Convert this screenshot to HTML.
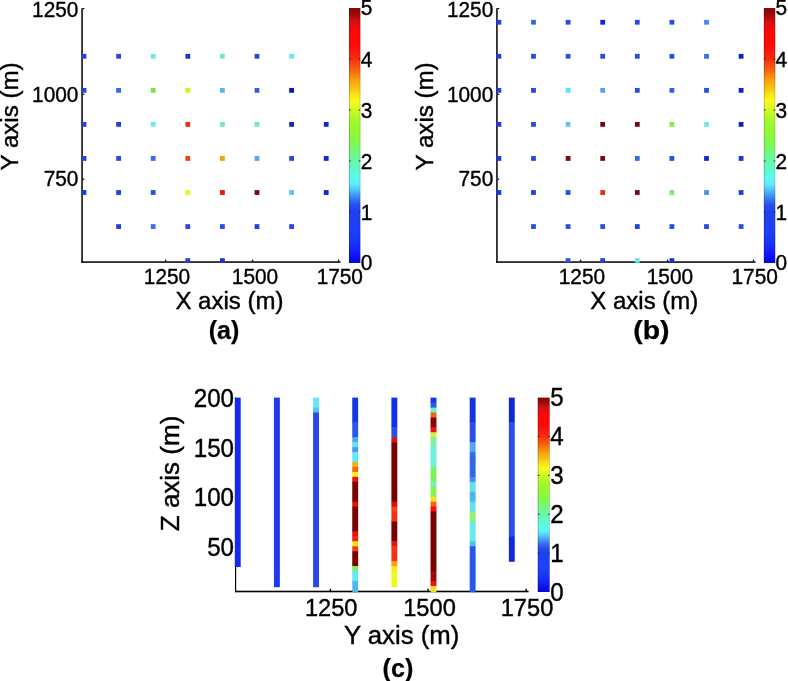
<!DOCTYPE html>
<html><head><meta charset="utf-8"><title>Figure</title>
<style>html,body{margin:0;padding:0;background:#fff;}svg{display:block}text{font-family:"Liberation Sans",sans-serif;fill:#000;stroke:#000;stroke-width:.4px}text.b{font-weight:bold;stroke-width:.25px}</style></head>
<body><svg width="788" height="681" viewBox="0 0 788 681" shape-rendering="auto">
<rect x="0" y="0" width="788" height="681" fill="#ffffff"/>
<defs><linearGradient id="cb" x1="0" y1="0" x2="0" y2="1">
<stop offset="0.0000" stop-color="#880808"/>
<stop offset="0.0157" stop-color="#900808"/>
<stop offset="0.0275" stop-color="#a80808"/>
<stop offset="0.0471" stop-color="#c81010"/>
<stop offset="0.0667" stop-color="#e01010"/>
<stop offset="0.0863" stop-color="#f80808"/>
<stop offset="0.1059" stop-color="#ff0808"/>
<stop offset="0.1451" stop-color="#ff0808"/>
<stop offset="0.1647" stop-color="#f81810"/>
<stop offset="0.1843" stop-color="#f82010"/>
<stop offset="0.2000" stop-color="#f03010"/>
<stop offset="0.2196" stop-color="#f84810"/>
<stop offset="0.2353" stop-color="#f85810"/>
<stop offset="0.2510" stop-color="#f87010"/>
<stop offset="0.2667" stop-color="#f88810"/>
<stop offset="0.2824" stop-color="#f8a010"/>
<stop offset="0.2980" stop-color="#f8b010"/>
<stop offset="0.3137" stop-color="#f8c010"/>
<stop offset="0.3294" stop-color="#f8d818"/>
<stop offset="0.3451" stop-color="#f8e818"/>
<stop offset="0.3608" stop-color="#f8f820"/>
<stop offset="0.3765" stop-color="#f0f820"/>
<stop offset="0.3922" stop-color="#e0f820"/>
<stop offset="0.4000" stop-color="#d0f820"/>
<stop offset="0.4157" stop-color="#c0f828"/>
<stop offset="0.4314" stop-color="#b0f828"/>
<stop offset="0.4471" stop-color="#a0f830"/>
<stop offset="0.4706" stop-color="#98f830"/>
<stop offset="0.4980" stop-color="#90f838"/>
<stop offset="0.5255" stop-color="#80f850"/>
<stop offset="0.5490" stop-color="#78f868"/>
<stop offset="0.5725" stop-color="#70f888"/>
<stop offset="0.5882" stop-color="#68f8a0"/>
<stop offset="0.6000" stop-color="#68f8a8"/>
<stop offset="0.6196" stop-color="#60f8c0"/>
<stop offset="0.6431" stop-color="#60f8d8"/>
<stop offset="0.6667" stop-color="#60f8f0"/>
<stop offset="0.6863" stop-color="#60f0f8"/>
<stop offset="0.7020" stop-color="#58d8f8"/>
<stop offset="0.7137" stop-color="#50c0f8"/>
<stop offset="0.7255" stop-color="#48a8f8"/>
<stop offset="0.7373" stop-color="#4090f0"/>
<stop offset="0.7451" stop-color="#3880f8"/>
<stop offset="0.7569" stop-color="#3068f0"/>
<stop offset="0.7725" stop-color="#2850f0"/>
<stop offset="0.7843" stop-color="#2048f0"/>
<stop offset="0.8000" stop-color="#2040f0"/>
<stop offset="0.8314" stop-color="#2040f0"/>
<stop offset="0.8706" stop-color="#2040f8"/>
<stop offset="0.9098" stop-color="#1838f8"/>
<stop offset="0.9412" stop-color="#1828f8"/>
<stop offset="0.9647" stop-color="#1018f8"/>
<stop offset="0.9804" stop-color="#0810f0"/>
<stop offset="1.0000" stop-color="#0808d0"/>
</linearGradient></defs>
<rect x="81.30" y="8.20" width="1.50" height="254.60" fill="#000"/>
<rect x="81.30" y="261.30" width="259.30" height="1.50" fill="#000"/>
<rect x="165.10" y="259.60" width="1.20" height="2.00" fill="#000"/>
<rect x="252.00" y="259.60" width="1.20" height="2.00" fill="#000"/>
<rect x="338.00" y="259.60" width="1.20" height="2.00" fill="#000"/>
<rect x="82.70" y="8.00" width="1.70" height="1.20" fill="#000"/>
<rect x="82.70" y="93.70" width="1.70" height="1.20" fill="#000"/>
<rect x="82.70" y="178.60" width="1.70" height="1.20" fill="#000"/>
<rect x="81.60" y="53.90" width="4.80" height="4.80" fill="#2040e8"/>
<rect x="116.20" y="53.90" width="4.80" height="4.80" fill="#2848e0"/>
<rect x="150.80" y="53.90" width="4.80" height="4.80" fill="#70e8e0"/>
<rect x="185.40" y="53.90" width="4.80" height="4.80" fill="#1830d8"/>
<rect x="220.00" y="53.90" width="4.80" height="4.80" fill="#70e8d0"/>
<rect x="254.60" y="53.90" width="4.80" height="4.80" fill="#2848d8"/>
<rect x="289.20" y="53.90" width="4.80" height="4.80" fill="#68e8f8"/>
<rect x="81.60" y="87.95" width="4.80" height="4.80" fill="#2040e8"/>
<rect x="116.20" y="87.95" width="4.80" height="4.80" fill="#3868e0"/>
<rect x="150.80" y="87.95" width="4.80" height="4.80" fill="#80e048"/>
<rect x="185.40" y="87.95" width="4.80" height="4.80" fill="#d8f020"/>
<rect x="220.00" y="87.95" width="4.80" height="4.80" fill="#58b8e8"/>
<rect x="254.60" y="87.95" width="4.80" height="4.80" fill="#3060e0"/>
<rect x="289.20" y="87.95" width="4.80" height="4.80" fill="#0818b8"/>
<rect x="81.60" y="122.00" width="4.80" height="4.80" fill="#2040e8"/>
<rect x="116.20" y="122.00" width="4.80" height="4.80" fill="#2040d8"/>
<rect x="150.80" y="122.00" width="4.80" height="4.80" fill="#70e8f0"/>
<rect x="185.40" y="122.00" width="4.80" height="4.80" fill="#e83010"/>
<rect x="220.00" y="122.00" width="4.80" height="4.80" fill="#70e8c8"/>
<rect x="254.60" y="122.00" width="4.80" height="4.80" fill="#70e8d0"/>
<rect x="289.20" y="122.00" width="4.80" height="4.80" fill="#1028c8"/>
<rect x="323.80" y="122.00" width="4.80" height="4.80" fill="#1028d0"/>
<rect x="81.60" y="156.05" width="4.80" height="4.80" fill="#2040e8"/>
<rect x="116.20" y="156.05" width="4.80" height="4.80" fill="#2848e0"/>
<rect x="150.80" y="156.05" width="4.80" height="4.80" fill="#3868e0"/>
<rect x="185.40" y="156.05" width="4.80" height="4.80" fill="#f04010"/>
<rect x="220.00" y="156.05" width="4.80" height="4.80" fill="#f8a010"/>
<rect x="254.60" y="156.05" width="4.80" height="4.80" fill="#58a8f0"/>
<rect x="289.20" y="156.05" width="4.80" height="4.80" fill="#2848d8"/>
<rect x="323.80" y="156.05" width="4.80" height="4.80" fill="#1028d0"/>
<rect x="81.60" y="190.10" width="4.80" height="4.80" fill="#1838e0"/>
<rect x="116.20" y="190.10" width="4.80" height="4.80" fill="#2040e0"/>
<rect x="150.80" y="190.10" width="4.80" height="4.80" fill="#2850e0"/>
<rect x="185.40" y="190.10" width="4.80" height="4.80" fill="#f0f020"/>
<rect x="220.00" y="190.10" width="4.80" height="4.80" fill="#e81810"/>
<rect x="254.60" y="190.10" width="4.80" height="4.80" fill="#780818"/>
<rect x="289.20" y="190.10" width="4.80" height="4.80" fill="#58c8f0"/>
<rect x="323.80" y="190.10" width="4.80" height="4.80" fill="#1028d0"/>
<rect x="116.20" y="224.15" width="4.80" height="4.80" fill="#2040e0"/>
<rect x="150.80" y="224.15" width="4.80" height="4.80" fill="#3870e8"/>
<rect x="185.40" y="224.15" width="4.80" height="4.80" fill="#2848e0"/>
<rect x="220.00" y="224.15" width="4.80" height="4.80" fill="#2850e0"/>
<rect x="254.60" y="224.15" width="4.80" height="4.80" fill="#2040e0"/>
<rect x="289.20" y="224.15" width="4.80" height="4.80" fill="#2848e0"/>
<rect x="185.40" y="258.20" width="4.80" height="4.60" fill="#2040e0"/>
<rect x="220.00" y="258.20" width="4.80" height="4.60" fill="#1830e0"/>
<rect x="349" y="8" width="11.3" height="255" fill="url(#cb)"/>
<rect x="349.00" y="8.00" width="0.60" height="255.00" fill="rgba(0,0,0,0.35)"/>
<rect x="359.80" y="8.00" width="0.50" height="255.00" fill="rgba(0,0,0,0.25)"/>
<rect x="349.00" y="58.50" width="1.60" height="1.00" fill="#222"/>
<rect x="358.70" y="58.50" width="1.60" height="1.00" fill="#222"/>
<rect x="349.00" y="109.50" width="1.60" height="1.00" fill="#222"/>
<rect x="358.70" y="109.50" width="1.60" height="1.00" fill="#222"/>
<rect x="349.00" y="160.50" width="1.60" height="1.00" fill="#222"/>
<rect x="358.70" y="160.50" width="1.60" height="1.00" fill="#222"/>
<rect x="349.00" y="211.50" width="1.60" height="1.00" fill="#222"/>
<rect x="358.70" y="211.50" width="1.60" height="1.00" fill="#222"/>
<text x="78.4" y="17.0" font-size="21.73" text-anchor="end"  textLength="46.34" lengthAdjust="spacingAndGlyphs">1250</text>
<text x="78.4" y="102.2" font-size="21.73" text-anchor="end"  textLength="46.34" lengthAdjust="spacingAndGlyphs">1000</text>
<text x="78.4" y="186.3" font-size="21.73" text-anchor="end"  textLength="34.76" lengthAdjust="spacingAndGlyphs">750</text>
<text x="167.0" y="284.1" font-size="21.73" text-anchor="middle"  textLength="46.34" lengthAdjust="spacingAndGlyphs">1250</text>
<text x="255.0" y="284.1" font-size="21.73" text-anchor="middle"  textLength="46.34" lengthAdjust="spacingAndGlyphs">1500</text>
<text x="339.8" y="284.1" font-size="21.73" text-anchor="middle"  textLength="46.34" lengthAdjust="spacingAndGlyphs">1750</text>
<text x="175.4" y="309.2" font-size="23.14" text-anchor="start"  textLength="108" lengthAdjust="spacingAndGlyphs">X axis (m)</text>
<text x="18.1" y="170.4" font-size="23.55" text-anchor="start"  transform="rotate(-90 18.1 170.4)" textLength="108" lengthAdjust="spacingAndGlyphs">Y axis (m)</text>
<text x="360.7" y="270.0" font-size="21.73" text-anchor="start"  textLength="11.59" lengthAdjust="spacingAndGlyphs">0</text>
<text x="360.7" y="219.5" font-size="21.73" text-anchor="start"  textLength="11.59" lengthAdjust="spacingAndGlyphs">1</text>
<text x="360.7" y="168.7" font-size="21.73" text-anchor="start"  textLength="11.59" lengthAdjust="spacingAndGlyphs">2</text>
<text x="360.7" y="117.6" font-size="21.73" text-anchor="start"  textLength="11.59" lengthAdjust="spacingAndGlyphs">3</text>
<text x="360.7" y="66.9" font-size="21.73" text-anchor="start"  textLength="11.59" lengthAdjust="spacingAndGlyphs">4</text>
<text x="360.7" y="15.2" font-size="21.73" text-anchor="start"  textLength="11.59" lengthAdjust="spacingAndGlyphs">5</text>
<text x="224" y="339.2" font-size="25" text-anchor="middle"  class="b">(a)</text>
<rect x="496.20" y="8.20" width="1.50" height="254.60" fill="#000"/>
<rect x="496.20" y="261.30" width="259.30" height="1.50" fill="#000"/>
<rect x="580.00" y="259.60" width="1.20" height="2.00" fill="#000"/>
<rect x="666.90" y="259.60" width="1.20" height="2.00" fill="#000"/>
<rect x="752.90" y="259.60" width="1.20" height="2.00" fill="#000"/>
<rect x="497.60" y="8.00" width="1.70" height="1.20" fill="#000"/>
<rect x="497.60" y="93.70" width="1.70" height="1.20" fill="#000"/>
<rect x="497.60" y="178.60" width="1.70" height="1.20" fill="#000"/>
<rect x="496.50" y="19.85" width="4.80" height="4.80" fill="#2040e0"/>
<rect x="531.10" y="19.85" width="4.80" height="4.80" fill="#3868e0"/>
<rect x="565.70" y="19.85" width="4.80" height="4.80" fill="#2850e0"/>
<rect x="600.30" y="19.85" width="4.80" height="4.80" fill="#1028d8"/>
<rect x="634.90" y="19.85" width="4.80" height="4.80" fill="#2848e0"/>
<rect x="669.50" y="19.85" width="4.80" height="4.80" fill="#2850e0"/>
<rect x="704.10" y="19.85" width="4.80" height="4.80" fill="#4888f0"/>
<rect x="496.50" y="53.90" width="4.80" height="4.80" fill="#2040e0"/>
<rect x="531.10" y="53.90" width="4.80" height="4.80" fill="#2850e0"/>
<rect x="565.70" y="53.90" width="4.80" height="4.80" fill="#2850e0"/>
<rect x="600.30" y="53.90" width="4.80" height="4.80" fill="#2850e0"/>
<rect x="634.90" y="53.90" width="4.80" height="4.80" fill="#2850e0"/>
<rect x="669.50" y="53.90" width="4.80" height="4.80" fill="#2850e0"/>
<rect x="704.10" y="53.90" width="4.80" height="4.80" fill="#3870e8"/>
<rect x="738.70" y="53.90" width="4.80" height="4.80" fill="#1020c8"/>
<rect x="496.50" y="87.95" width="4.80" height="4.80" fill="#2040e0"/>
<rect x="531.10" y="87.95" width="4.80" height="4.80" fill="#2848e0"/>
<rect x="565.70" y="87.95" width="4.80" height="4.80" fill="#60e0f8"/>
<rect x="600.30" y="87.95" width="4.80" height="4.80" fill="#50a0f0"/>
<rect x="634.90" y="87.95" width="4.80" height="4.80" fill="#2850e0"/>
<rect x="669.50" y="87.95" width="4.80" height="4.80" fill="#3060e0"/>
<rect x="704.10" y="87.95" width="4.80" height="4.80" fill="#2850e0"/>
<rect x="738.70" y="87.95" width="4.80" height="4.80" fill="#1020c8"/>
<rect x="496.50" y="122.00" width="4.80" height="4.80" fill="#2040e0"/>
<rect x="531.10" y="122.00" width="4.80" height="4.80" fill="#2848e0"/>
<rect x="565.70" y="122.00" width="4.80" height="4.80" fill="#60c8f0"/>
<rect x="600.30" y="122.00" width="4.80" height="4.80" fill="#780810"/>
<rect x="634.90" y="122.00" width="4.80" height="4.80" fill="#780818"/>
<rect x="669.50" y="122.00" width="4.80" height="4.80" fill="#90e848"/>
<rect x="704.10" y="122.00" width="4.80" height="4.80" fill="#70e8e8"/>
<rect x="738.70" y="122.00" width="4.80" height="4.80" fill="#1020c8"/>
<rect x="496.50" y="156.05" width="4.80" height="4.80" fill="#1838e8"/>
<rect x="531.10" y="156.05" width="4.80" height="4.80" fill="#2848e0"/>
<rect x="565.70" y="156.05" width="4.80" height="4.80" fill="#780810"/>
<rect x="600.30" y="156.05" width="4.80" height="4.80" fill="#780810"/>
<rect x="634.90" y="156.05" width="4.80" height="4.80" fill="#3868e8"/>
<rect x="669.50" y="156.05" width="4.80" height="4.80" fill="#2850e0"/>
<rect x="704.10" y="156.05" width="4.80" height="4.80" fill="#1028d0"/>
<rect x="738.70" y="156.05" width="4.80" height="4.80" fill="#1830d8"/>
<rect x="496.50" y="190.10" width="4.80" height="4.80" fill="#1838e8"/>
<rect x="531.10" y="190.10" width="4.80" height="4.80" fill="#2040e0"/>
<rect x="565.70" y="190.10" width="4.80" height="4.80" fill="#2850e0"/>
<rect x="600.30" y="190.10" width="4.80" height="4.80" fill="#f02810"/>
<rect x="634.90" y="190.10" width="4.80" height="4.80" fill="#780818"/>
<rect x="669.50" y="190.10" width="4.80" height="4.80" fill="#80e878"/>
<rect x="704.10" y="190.10" width="4.80" height="4.80" fill="#4890e8"/>
<rect x="738.70" y="190.10" width="4.80" height="4.80" fill="#2040d8"/>
<rect x="531.10" y="224.15" width="4.80" height="4.80" fill="#2850e0"/>
<rect x="565.70" y="224.15" width="4.80" height="4.80" fill="#2850e0"/>
<rect x="600.30" y="224.15" width="4.80" height="4.80" fill="#2850e0"/>
<rect x="634.90" y="224.15" width="4.80" height="4.80" fill="#2040e0"/>
<rect x="669.50" y="224.15" width="4.80" height="4.80" fill="#2850e0"/>
<rect x="704.10" y="224.15" width="4.80" height="4.80" fill="#2848e0"/>
<rect x="738.70" y="224.15" width="4.80" height="4.80" fill="#2850e0"/>
<rect x="565.70" y="258.20" width="4.80" height="4.60" fill="#2850e0"/>
<rect x="600.30" y="258.20" width="4.80" height="4.60" fill="#2040e0"/>
<rect x="634.90" y="258.20" width="4.80" height="4.60" fill="#68e8e8"/>
<rect x="669.50" y="258.20" width="4.80" height="4.60" fill="#1830d8"/>
<rect x="763.9" y="8" width="11.3" height="255" fill="url(#cb)"/>
<rect x="763.90" y="8.00" width="0.60" height="255.00" fill="rgba(0,0,0,0.35)"/>
<rect x="774.70" y="8.00" width="0.50" height="255.00" fill="rgba(0,0,0,0.25)"/>
<rect x="763.90" y="58.50" width="1.60" height="1.00" fill="#222"/>
<rect x="773.60" y="58.50" width="1.60" height="1.00" fill="#222"/>
<rect x="763.90" y="109.50" width="1.60" height="1.00" fill="#222"/>
<rect x="773.60" y="109.50" width="1.60" height="1.00" fill="#222"/>
<rect x="763.90" y="160.50" width="1.60" height="1.00" fill="#222"/>
<rect x="773.60" y="160.50" width="1.60" height="1.00" fill="#222"/>
<rect x="763.90" y="211.50" width="1.60" height="1.00" fill="#222"/>
<rect x="773.60" y="211.50" width="1.60" height="1.00" fill="#222"/>
<text x="493.29999999999995" y="17.0" font-size="21.73" text-anchor="end"  textLength="46.34" lengthAdjust="spacingAndGlyphs">1250</text>
<text x="493.29999999999995" y="102.2" font-size="21.73" text-anchor="end"  textLength="46.34" lengthAdjust="spacingAndGlyphs">1000</text>
<text x="493.29999999999995" y="186.3" font-size="21.73" text-anchor="end"  textLength="34.76" lengthAdjust="spacingAndGlyphs">750</text>
<text x="581.9" y="284.1" font-size="21.73" text-anchor="middle"  textLength="46.34" lengthAdjust="spacingAndGlyphs">1250</text>
<text x="669.9" y="284.1" font-size="21.73" text-anchor="middle"  textLength="46.34" lengthAdjust="spacingAndGlyphs">1500</text>
<text x="754.7" y="284.1" font-size="21.73" text-anchor="middle"  textLength="46.34" lengthAdjust="spacingAndGlyphs">1750</text>
<text x="590.3" y="309.2" font-size="23.14" text-anchor="start"  textLength="108" lengthAdjust="spacingAndGlyphs">X axis (m)</text>
<text x="433.0" y="170.4" font-size="23.55" text-anchor="start"  transform="rotate(-90 433.0 170.4)" textLength="108" lengthAdjust="spacingAndGlyphs">Y axis (m)</text>
<text x="775.5999999999999" y="270.0" font-size="21.73" text-anchor="start"  textLength="11.59" lengthAdjust="spacingAndGlyphs">0</text>
<text x="775.5999999999999" y="219.5" font-size="21.73" text-anchor="start"  textLength="11.59" lengthAdjust="spacingAndGlyphs">1</text>
<text x="775.5999999999999" y="168.7" font-size="21.73" text-anchor="start"  textLength="11.59" lengthAdjust="spacingAndGlyphs">2</text>
<text x="775.5999999999999" y="117.6" font-size="21.73" text-anchor="start"  textLength="11.59" lengthAdjust="spacingAndGlyphs">3</text>
<text x="775.5999999999999" y="66.9" font-size="21.73" text-anchor="start"  textLength="11.59" lengthAdjust="spacingAndGlyphs">4</text>
<text x="775.5999999999999" y="15.2" font-size="21.73" text-anchor="start"  textLength="11.59" lengthAdjust="spacingAndGlyphs">5</text>
<text x="651.4" y="339.2" font-size="25" text-anchor="middle"  class="b" textLength="36.3" lengthAdjust="spacingAndGlyphs">(b)</text>
<rect x="235.00" y="397.60" width="1.20" height="194.50" fill="#000"/>
<rect x="235.00" y="590.70" width="293.60" height="1.60" fill="#000"/>
<rect x="329.70" y="588.80" width="1.40" height="2.50" fill="#000"/>
<rect x="427.40" y="588.80" width="1.40" height="2.50" fill="#000"/>
<rect x="525.50" y="588.80" width="1.40" height="2.50" fill="#000"/>
<rect x="234.80" y="397.60" width="5.90" height="169.40" fill="#1828f0"/>
<rect x="273.95" y="397.60" width="5.90" height="189.60" fill="#2038f0"/>
<rect x="313.10" y="397.60" width="5.90" height="10.41" fill="#68e8f0"/>
<rect x="313.10" y="407.51" width="5.90" height="5.45" fill="#58c0f0"/>
<rect x="313.10" y="412.47" width="5.90" height="174.74" fill="#2848e8"/>
<rect x="352.25" y="397.60" width="5.90" height="25.27" fill="#1838e8"/>
<rect x="352.25" y="422.38" width="5.90" height="15.37" fill="#2858e8"/>
<rect x="352.25" y="437.24" width="5.90" height="5.46" fill="#50a8f0"/>
<rect x="352.25" y="442.20" width="5.90" height="5.45" fill="#68e0f0"/>
<rect x="352.25" y="447.15" width="5.90" height="5.45" fill="#4898f0"/>
<rect x="352.25" y="452.11" width="5.90" height="10.41" fill="#68e8f0"/>
<rect x="352.25" y="462.02" width="5.90" height="5.45" fill="#f8b010"/>
<rect x="352.25" y="466.97" width="5.90" height="5.45" fill="#f86808"/>
<rect x="352.25" y="471.93" width="5.90" height="5.45" fill="#f0f020"/>
<rect x="352.25" y="476.88" width="5.90" height="5.46" fill="#f01010"/>
<rect x="352.25" y="481.84" width="5.90" height="20.32" fill="#780000"/>
<rect x="352.25" y="501.66" width="5.90" height="5.45" fill="#e81010"/>
<rect x="352.25" y="506.61" width="5.90" height="25.27" fill="#780000"/>
<rect x="352.25" y="531.38" width="5.90" height="5.46" fill="#e81010"/>
<rect x="352.25" y="536.34" width="5.90" height="5.46" fill="#f02010"/>
<rect x="352.25" y="541.30" width="5.90" height="5.45" fill="#f8e818"/>
<rect x="352.25" y="546.25" width="5.90" height="5.46" fill="#f04010"/>
<rect x="352.25" y="551.21" width="5.90" height="15.37" fill="#780000"/>
<rect x="352.25" y="566.07" width="5.90" height="5.46" fill="#80f060"/>
<rect x="352.25" y="571.03" width="5.90" height="10.41" fill="#68e8f0"/>
<rect x="352.25" y="580.94" width="5.90" height="11.26" fill="#50b8f0"/>
<rect x="391.40" y="397.60" width="5.90" height="30.23" fill="#1030f0"/>
<rect x="391.40" y="427.33" width="5.90" height="10.41" fill="#2850e8"/>
<rect x="391.40" y="437.24" width="5.90" height="5.46" fill="#e01010"/>
<rect x="391.40" y="442.20" width="5.90" height="59.96" fill="#780000"/>
<rect x="391.40" y="501.66" width="5.90" height="5.45" fill="#d81010"/>
<rect x="391.40" y="506.61" width="5.90" height="5.46" fill="#f84010"/>
<rect x="391.40" y="511.57" width="5.90" height="10.41" fill="#f83010"/>
<rect x="391.40" y="521.48" width="5.90" height="20.32" fill="#780000"/>
<rect x="391.40" y="541.30" width="5.90" height="5.45" fill="#e81010"/>
<rect x="391.40" y="546.25" width="5.90" height="15.37" fill="#f83010"/>
<rect x="391.40" y="561.12" width="5.90" height="5.46" fill="#f8a010"/>
<rect x="391.40" y="566.07" width="5.90" height="5.46" fill="#f8e818"/>
<rect x="391.40" y="571.03" width="5.90" height="16.17" fill="#f0f820"/>
<rect x="430.55" y="397.60" width="5.90" height="5.45" fill="#1838e0"/>
<rect x="430.55" y="402.56" width="5.90" height="5.46" fill="#2858e8"/>
<rect x="430.55" y="407.51" width="5.90" height="5.45" fill="#70f0c8"/>
<rect x="430.55" y="412.47" width="5.90" height="5.45" fill="#f06810"/>
<rect x="430.55" y="417.42" width="5.90" height="10.41" fill="#800808"/>
<rect x="430.55" y="427.33" width="5.90" height="5.45" fill="#f01010"/>
<rect x="430.55" y="432.29" width="5.90" height="5.45" fill="#d0f030"/>
<rect x="430.55" y="437.24" width="5.90" height="5.46" fill="#80f0a0"/>
<rect x="430.55" y="442.20" width="5.90" height="5.45" fill="#78f0b0"/>
<rect x="430.55" y="447.15" width="5.90" height="20.32" fill="#70f0e0"/>
<rect x="430.55" y="466.97" width="5.90" height="15.37" fill="#80f060"/>
<rect x="430.55" y="481.84" width="5.90" height="5.45" fill="#70f0c0"/>
<rect x="430.55" y="486.79" width="5.90" height="5.45" fill="#90f050"/>
<rect x="430.55" y="491.75" width="5.90" height="5.46" fill="#88f058"/>
<rect x="430.55" y="496.70" width="5.90" height="5.45" fill="#f8e020"/>
<rect x="430.55" y="501.66" width="5.90" height="5.45" fill="#f86010"/>
<rect x="430.55" y="506.61" width="5.90" height="5.46" fill="#f01010"/>
<rect x="430.55" y="511.57" width="5.90" height="59.96" fill="#780000"/>
<rect x="430.55" y="571.03" width="5.90" height="10.41" fill="#a00808"/>
<rect x="430.55" y="580.94" width="5.90" height="5.45" fill="#e81010"/>
<rect x="430.55" y="585.89" width="5.90" height="6.31" fill="#f8e020"/>
<rect x="469.70" y="397.60" width="5.90" height="25.27" fill="#1830e0"/>
<rect x="469.70" y="422.38" width="5.90" height="20.32" fill="#2850e8"/>
<rect x="469.70" y="442.20" width="5.90" height="10.41" fill="#50a8f0"/>
<rect x="469.70" y="452.11" width="5.90" height="5.45" fill="#3070e8"/>
<rect x="469.70" y="457.06" width="5.90" height="20.32" fill="#3068e8"/>
<rect x="469.70" y="476.88" width="5.90" height="5.46" fill="#4090f0"/>
<rect x="469.70" y="481.84" width="5.90" height="10.41" fill="#60e0f0"/>
<rect x="469.70" y="491.75" width="5.90" height="5.46" fill="#50b0f0"/>
<rect x="469.70" y="496.70" width="5.90" height="5.45" fill="#50b8f0"/>
<rect x="469.70" y="501.66" width="5.90" height="10.41" fill="#60e0f0"/>
<rect x="469.70" y="511.57" width="5.90" height="10.41" fill="#90f070"/>
<rect x="469.70" y="521.48" width="5.90" height="20.32" fill="#68e8f0"/>
<rect x="469.70" y="541.30" width="5.90" height="5.45" fill="#50c0f0"/>
<rect x="469.70" y="546.25" width="5.90" height="45.95" fill="#2858e8"/>
<rect x="508.85" y="397.60" width="5.90" height="25.27" fill="#1028d8"/>
<rect x="508.85" y="422.38" width="5.90" height="114.47" fill="#2850e8"/>
<rect x="508.85" y="536.34" width="5.90" height="25.46" fill="#1028e0"/>
<rect x="537.8" y="397.6" width="11.8" height="194.4" fill="url(#cb)"/>
<rect x="537.80" y="397.60" width="0.60" height="194.40" fill="rgba(0,0,0,0.35)"/>
<rect x="549.10" y="397.60" width="0.50" height="194.40" fill="rgba(0,0,0,0.25)"/>
<rect x="537.80" y="435.98" width="1.60" height="1.00" fill="#222"/>
<rect x="548.00" y="435.98" width="1.60" height="1.00" fill="#222"/>
<rect x="537.80" y="474.86" width="1.60" height="1.00" fill="#222"/>
<rect x="548.00" y="474.86" width="1.60" height="1.00" fill="#222"/>
<rect x="537.80" y="513.74" width="1.60" height="1.00" fill="#222"/>
<rect x="548.00" y="513.74" width="1.60" height="1.00" fill="#222"/>
<rect x="537.80" y="552.62" width="1.60" height="1.00" fill="#222"/>
<rect x="548.00" y="552.62" width="1.60" height="1.00" fill="#222"/>
<text x="234" y="407.2" font-size="24.99" text-anchor="end"  textLength="40.26" lengthAdjust="spacingAndGlyphs">200</text>
<text x="234" y="456.5" font-size="24.99" text-anchor="end"  textLength="40.26" lengthAdjust="spacingAndGlyphs">150</text>
<text x="234" y="506" font-size="24.99" text-anchor="end"  textLength="40.26" lengthAdjust="spacingAndGlyphs">100</text>
<text x="234" y="555.5" font-size="24.99" text-anchor="end"  textLength="26.84" lengthAdjust="spacingAndGlyphs">50</text>
<text x="331.2" y="616.3" font-size="24.48" text-anchor="middle"  textLength="52.59" lengthAdjust="spacingAndGlyphs">1250</text>
<text x="429.5" y="616.3" font-size="24.48" text-anchor="middle"  textLength="52.59" lengthAdjust="spacingAndGlyphs">1500</text>
<text x="527" y="616.3" font-size="24.48" text-anchor="middle"  textLength="52.59" lengthAdjust="spacingAndGlyphs">1750</text>
<text x="343.9" y="643.8" font-size="25.37" text-anchor="start"  textLength="115.5" lengthAdjust="spacingAndGlyphs">Y axis (m)</text>
<text x="178.8" y="531.2" font-size="25.37" text-anchor="start"  transform="rotate(-90 178.8 531.2)" textLength="115.5" lengthAdjust="spacingAndGlyphs">Z axis (m)</text>
<text x="550.3" y="600.7" font-size="24.99" text-anchor="start"  textLength="13.42" lengthAdjust="spacingAndGlyphs">0</text>
<text x="550.3" y="561.82" font-size="24.99" text-anchor="start"  textLength="13.42" lengthAdjust="spacingAndGlyphs">1</text>
<text x="550.3" y="522.94" font-size="24.99" text-anchor="start"  textLength="13.42" lengthAdjust="spacingAndGlyphs">2</text>
<text x="550.3" y="484.06" font-size="24.99" text-anchor="start"  textLength="13.42" lengthAdjust="spacingAndGlyphs">3</text>
<text x="550.3" y="445.18" font-size="24.99" text-anchor="start"  textLength="13.42" lengthAdjust="spacingAndGlyphs">4</text>
<text x="550.3" y="406.3" font-size="24.99" text-anchor="start"  textLength="13.42" lengthAdjust="spacingAndGlyphs">5</text>
<text x="398" y="676.5" font-size="26.5" text-anchor="middle"  class="b" textLength="30.8" lengthAdjust="spacingAndGlyphs">(c)</text>
</svg></body></html>
